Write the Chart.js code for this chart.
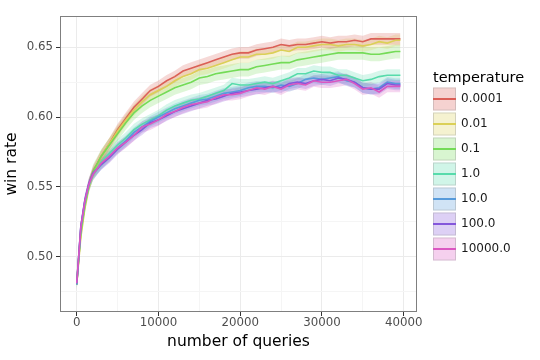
<!DOCTYPE html>
<html>
<head>
<meta charset="utf-8">
<script src="https://cdn.jsdelivr.net/npm/chart.js@4.4.0/dist/chart.umd.min.js"></script>
<style>
  html, body { margin: 0; padding: 0; background: #fff; }
  #wrap { width: 540px; height: 360px; }
</style>
</head>
<body>
<div id="wrap"><canvas id="chart"></canvas></div>
<script>
// number of queries (x)
const queries = [0, 500, 1000, 1500, 2000, 3000, 4000, 5000, 6000, 7000, 8000, 9000, 10000,
  11000, 12000, 13000, 14000, 15000, 16000, 17000, 18000, 19000, 20000,
  21000, 22000, 23000, 24000, 25000, 26000, 27000, 28000, 29000, 30000,
  31000, 32000, 33000, 34000, 35000, 36000, 37000, 38000, 39000, 39600];

const temperatures = ["0.0001", "0.01", "0.1", "1.0", "10.0", "100.0", "10000.0"];
const colors = ["#db5f57", "#dbd057", "#74db57", "#57dbab", "#579bdb", "#8457db", "#db57c1"];

// win rate per temperature
const win_0_0001 = [0.480, 0.518, 0.538, 0.552, 0.561, 0.572, 0.581, 0.591, 0.599, 0.607, 0.613, 0.619, 0.622,
  0.626, 0.629, 0.633, 0.635, 0.637, 0.639, 0.641, 0.643, 0.645, 0.646,
  0.646, 0.648, 0.649, 0.650, 0.652, 0.651, 0.652, 0.652, 0.653, 0.654,
  0.653, 0.654, 0.654, 0.655, 0.654, 0.656, 0.656, 0.656, 0.656, 0.656];
const win_0_01 = [0.480, 0.514, 0.535, 0.550, 0.560, 0.572, 0.581, 0.590, 0.598, 0.605, 0.611, 0.616, 0.619,
  0.622, 0.626, 0.629, 0.631, 0.634, 0.635, 0.637, 0.639, 0.641, 0.643,
  0.643, 0.645, 0.645, 0.646, 0.648, 0.647, 0.650, 0.650, 0.651, 0.652,
  0.652, 0.651, 0.652, 0.652, 0.651, 0.652, 0.654, 0.653, 0.655, 0.655];
const win_0_1 = [0.481, 0.517, 0.537, 0.551, 0.561, 0.572, 0.580, 0.588, 0.596, 0.603, 0.608, 0.612, 0.615,
  0.618, 0.621, 0.623, 0.625, 0.628, 0.629, 0.631, 0.632, 0.633, 0.634,
  0.634, 0.636, 0.637, 0.638, 0.639, 0.639, 0.641, 0.642, 0.643, 0.644,
  0.645, 0.646, 0.646, 0.646, 0.646, 0.645, 0.645, 0.646, 0.647, 0.647];
const win_1_0 = [0.480, 0.520, 0.539, 0.551, 0.559, 0.568, 0.574, 0.580, 0.585, 0.591, 0.595, 0.598, 0.601,
  0.605, 0.608, 0.610, 0.612, 0.613, 0.615, 0.617, 0.619, 0.624, 0.623,
  0.623, 0.624, 0.625, 0.624, 0.626, 0.628, 0.631, 0.631, 0.633, 0.632,
  0.632, 0.630, 0.630, 0.628, 0.626, 0.627, 0.629, 0.630, 0.630, 0.630];
const win_10_0 = [0.480, 0.521, 0.540, 0.552, 0.559, 0.566, 0.572, 0.578, 0.583, 0.589, 0.593, 0.597, 0.600,
  0.603, 0.606, 0.608, 0.610, 0.612, 0.613, 0.615, 0.617, 0.618, 0.619,
  0.621, 0.622, 0.622, 0.621, 0.623, 0.622, 0.624, 0.627, 0.628, 0.627,
  0.628, 0.629, 0.626, 0.625, 0.621, 0.620, 0.621, 0.625, 0.624, 0.624];
const win_100_0 = [0.481, 0.522, 0.541, 0.553, 0.560, 0.566, 0.571, 0.577, 0.582, 0.587, 0.591, 0.596, 0.598,
  0.601, 0.604, 0.606, 0.608, 0.610, 0.612, 0.613, 0.615, 0.617, 0.618,
  0.619, 0.620, 0.621, 0.622, 0.621, 0.624, 0.625, 0.624, 0.626, 0.627,
  0.626, 0.628, 0.627, 0.625, 0.621, 0.620, 0.620, 0.624, 0.623, 0.623];
const win_10000_0 = [0.481, 0.521, 0.540, 0.552, 0.559, 0.567, 0.572, 0.578, 0.582, 0.587, 0.593, 0.595, 0.598,
  0.602, 0.604, 0.607, 0.609, 0.610, 0.611, 0.614, 0.616, 0.616, 0.617,
  0.619, 0.621, 0.620, 0.622, 0.620, 0.623, 0.624, 0.623, 0.626, 0.625,
  0.625, 0.626, 0.627, 0.624, 0.620, 0.621, 0.618, 0.622, 0.622, 0.622];

const series = [win_0_0001, win_0_01, win_0_1, win_1_0, win_10_0, win_100_0, win_10000_0];
// half width of the shaded band, per temperature
const bandHalf = [0.0042, 0.0042, 0.005, 0.0042, 0.0038, 0.0038, 0.0042];

const xTicks = [0, 5000, 10000, 15000, 20000, 25000, 30000, 35000, 40000];
const yTicks = [0.475, 0.500, 0.525, 0.550, 0.575, 0.600, 0.625, 0.650];

const FONT = "'DejaVu Sans', sans-serif";

function rgba(hex, a) {
  const n = parseInt(hex.slice(1), 16);
  return `rgba(${n >> 16}, ${(n >> 8) & 255}, ${n & 255}, ${a})`;
}

const datasets = [];
series.forEach((vals, i) => {
  const upper = vals.map((v, k) => ({ x: queries[k], y: v + bandHalf[i] }));
  const lower = vals.map((v, k) => ({ x: queries[k], y: v - bandHalf[i] }));
  const upIdx = datasets.length;
  datasets.push({ data: upper, borderWidth: 0, pointRadius: 0, fill: false, order: 100 });
  datasets.push({ data: lower, borderWidth: 0, pointRadius: 0, fill: upIdx,
    backgroundColor: rgba(colors[i], 0.24), order: 100 });
});
series.forEach((vals, i) => {
  datasets.push({
    label: temperatures[i],
    data: vals.map((v, k) => ({ x: queries[k], y: v })),
    borderColor: colors[i], borderWidth: 1.6, pointRadius: 0, fill: false,
    order: series.length - i
  });
});

const isMajorX = v => v % 10000 === 0;
const isMajorY = v => Math.round(v * 1000) % 50 === 0;

const decor = {
  id: 'decor',
  afterDraw(chart) {
    const ctx = chart.ctx;
    const ca = chart.chartArea;
    ctx.save();
    // panel border
    ctx.strokeStyle = '#7f7f7f';
    ctx.lineWidth = 1;
    ctx.strokeRect(Math.round(ca.left) + 0.5, Math.round(ca.top) + 0.5,
      Math.round(ca.right - ca.left) - 1, Math.round(ca.bottom - ca.top) - 1);
    // axis titles
    ctx.fillStyle = '#000';
    ctx.font = `15.5px ${FONT}`;
    ctx.textAlign = 'center';
    ctx.textBaseline = 'middle';
    ctx.fillText('number of queries', (ca.left + ca.right) / 2, 342);
    ctx.save();
    ctx.translate(12, (ca.top + ca.bottom) / 2);
    ctx.rotate(-Math.PI / 2);
    ctx.fillText('win rate', 0, 0);
    ctx.restore();
    // legend
    ctx.textAlign = 'left';
    ctx.font = `14.5px ${FONT}`;
    ctx.fillText('temperature', 433, 78);
    ctx.font = `12px ${FONT}`;
    temperatures.forEach((t, i) => {
      const top = 87.5 + 25 * i;
      ctx.fillStyle = rgba(colors[i], 0.28);
      ctx.fillRect(433, top, 23, 23);
      ctx.strokeStyle = 'rgba(150,150,150,0.35)';
      ctx.lineWidth = 1;
      ctx.strokeRect(433.5, top + 0.5, 22, 22);
      ctx.strokeStyle = colors[i];
      ctx.lineWidth = 2;
      ctx.beginPath();
      ctx.moveTo(433, top + 11.5);
      ctx.lineTo(456, top + 11.5);
      ctx.stroke();
      ctx.fillStyle = '#1a1a1a';
      ctx.fillText(t, 461, top + 11.5);
    });
    ctx.restore();
  }
};

new Chart(document.getElementById('chart'), {
  type: 'line',
  data: { datasets },
  plugins: [decor],
  options: {
    responsive: true,
    maintainAspectRatio: false,
    animation: false,
    devicePixelRatio: 1,
    layout: { padding: { left: 0, right: 123, top: 16, bottom: 0 } },
    plugins: {
      legend: { display: false },
      tooltip: { enabled: false },
      filler: { drawTime: 'beforeDatasetsDraw' }
    },
    scales: {
      x: {
        type: 'linear',
        min: -2047,
        max: 41630,
        afterBuildTicks: s => { s.ticks = xTicks.map(v => ({ value: v })); },
        afterFit: s => { s.height = 48; },
        ticks: {
          autoSkip: false, maxRotation: 0, padding: 0,
          color: '#4d4d4d', font: { family: FONT, size: 11.8 },
          callback: v => isMajorX(v) ? String(v) : ''
        },
        grid: {
          color: c => isMajorX(c.tick.value) ? '#ebebeb' : '#f5f5f5',
          lineWidth: 1,
          tickLength: 4,
          tickColor: c => isMajorX(c.tick.value) ? '#333333' : 'rgba(0,0,0,0)'
        },
        border: { display: false }
      },
      y: {
        type: 'linear',
        min: 0.4604,
        max: 0.6724,
        afterBuildTicks: s => { s.ticks = yTicks.map(v => ({ value: v })); },
        afterFit: s => { s.width = 60; },
        ticks: {
          autoSkip: false, padding: 3,
          color: '#4d4d4d', font: { family: FONT, size: 11.8 },
          callback: v => isMajorY(v) ? v.toFixed(2) : ''
        },
        grid: {
          color: c => isMajorY(c.tick.value) ? '#ebebeb' : '#f5f5f5',
          lineWidth: 1,
          tickLength: 4,
          tickColor: c => isMajorY(c.tick.value) ? '#333333' : 'rgba(0,0,0,0)'
        },
        border: { display: false }
      }
    }
  }
});
</script>
</body>
</html>
